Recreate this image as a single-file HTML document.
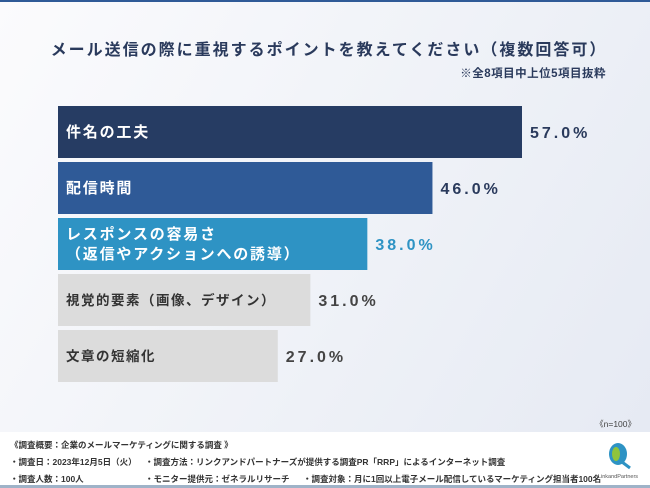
<!DOCTYPE html>
<html><head><meta charset="utf-8"><style>
*{margin:0;padding:0;box-sizing:border-box}
body{width:650px;height:488px;overflow:hidden;font-family:"Liberation Sans","Noto Sans CJK JP",sans-serif;background:#fff;position:relative}
#bg{position:absolute;left:0;top:0;width:650px;height:432px;background:linear-gradient(120deg,#fbfbfd 0%,#eef1f7 60%,#e6eaf3 100%);border-top:2px solid #2f5a97}
.t{position:absolute;white-space:nowrap}
#chart{position:absolute;left:0;top:0}
.foot{position:absolute;font-size:8.5px;color:#333;white-space:nowrap;font-weight:bold}
</style></head><body>
<div id="bg"></div>
<div class="t" style="left:0;width:650px;text-align:center;top:36px;font-size:16px;font-weight:bold;color:#2a3a5c;letter-spacing:2px;padding-left:8px">メール送信の際に重視するポイントを教えてください（複数回答可）</div>
<div class="t" style="right:44px;top:65px;font-size:11.5px;font-weight:bold;color:#2a3a5c;letter-spacing:0.5px">※全8項目中上位5項目抜粋</div>
<svg id="chart" width="650" height="432"></svg>
<div class="t" style="right:14px;top:418px;font-size:8.5px;color:#444">《n=100》</div>
<div class="foot" style="left:10px;top:439px">《調査概要：企業のメールマーケティングに関する調査 》</div>
<div class="foot" style="left:10px;top:456px">・調査日：2023年12月5日（火）</div>
<div class="foot" style="left:145px;top:456px">・調査方法：リンクアンドパートナーズが提供する調査PR「RRP」によるインターネット調査</div>
<div class="foot" style="left:10px;top:473px">・調査人数：100人</div>
<div class="foot" style="left:145px;top:473px">・モニター提供元：ゼネラルリサーチ</div>
<div class="foot" style="left:303px;top:473px">・調査対象：月に1回以上電子メール配信しているマーケティング担当者100名</div>
<svg style="position:absolute;left:598px;top:440px" width="40" height="42">
<ellipse cx="20" cy="14" rx="9" ry="11" fill="#2e93c4"/><ellipse cx="18" cy="14" rx="4" ry="7" fill="#8fc43c"/><path d="M24 22 L32 28" stroke="#2e93c4" stroke-width="3"/>
<text x="20" y="38" font-size="5.5" text-anchor="middle" fill="#555">LinkandPartners</text></svg>
<div style="position:absolute;left:0;top:485px;width:650px;height:3px;background:#9fb3c8"></div>
<script>
const categories=[["件名の工夫"],["配信時間"],["レスポンスの容易さ","（返信やアクションへの誘導）"],["視覚的要素（画像、デザイン）"],["文章の短縮化"]];
const values=[57.0,46.0,38.0,31.0,27.0];
const barColors=["#263c63","#2f5a97","#2e93c4","#dcdcdc","#dcdcdc"];
const labelColors=["#fff","#fff","#fff","#333","#333"];
const valueColors=["#2a3a5c","#2a3a5c","#2e93c4","#444","#444"];
const svg=document.getElementById('chart');
const NS="http://www.w3.org/2000/svg";
const x0=58,pxPer=464/57;
const xs=v=>v*pxPer;
const ys=i=>106+i*56;
const bh=52;
values.forEach((v,i)=>{
 const r=document.createElementNS(NS,'rect');
 r.setAttribute('x',x0);r.setAttribute('y',ys(i));r.setAttribute('width',xs(v));r.setAttribute('height',bh);r.setAttribute('fill',barColors[i]);
 
 
 svg.appendChild(r);
 const lines=categories[i];
 lines.forEach((ln,j)=>{
  const t=document.createElementNS(NS,'text');
  const cy=ys(i)+bh/2+5+(j-(lines.length-1)/2)*20;
  t.setAttribute('x',x0+8);t.setAttribute('y',cy);t.setAttribute('fill',labelColors[i]);
  t.setAttribute('font-size',i<3?15:13.5);t.setAttribute('font-weight','bold');t.setAttribute('letter-spacing',i<3?'1.8':'1.5');
  t.textContent=ln;
  
  
  svg.appendChild(t);
 });
 const vt=document.createElementNS(NS,'text');
 vt.setAttribute('x',x0+xs(v)+8);vt.setAttribute('y',ys(i)+bh/2+6);vt.setAttribute('fill',valueColors[i]);
 vt.setAttribute('font-size',16);vt.setAttribute('font-weight','bold');vt.setAttribute('letter-spacing','3');
 vt.textContent=v.toFixed(1)+'%';
 
 
 svg.appendChild(vt);
});
</script>
</body></html>
